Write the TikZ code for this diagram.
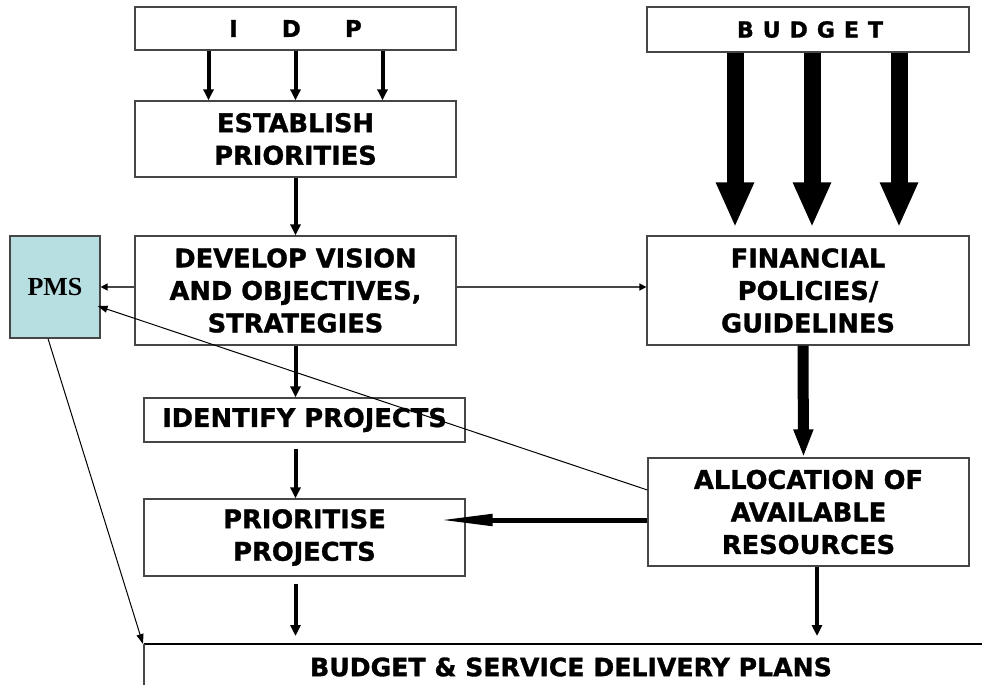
\documentclass[tikz,border=0pt]{standalone}
\usepackage{fontspec}
\newfontfamily\heavy{DejaVu Sans}[BoldFeatures={FakeBold=1.2}]
\newfontfamily\pmsfont{Liberation Serif}
\usetikzlibrary{arrows.meta}
\definecolor{pmsblue}{RGB}{183,222,225}
\definecolor{edge}{RGB}{70,70,70}

\begin{document}
\begin{tikzpicture}[x=1pt,y=-1pt,
  box/.style={draw=edge, line width=1.2pt, fill=white, inner sep=0pt,
    align=center, text=black,
    font=\heavy\bfseries\fontsize{25.7}{32.5}\selectfont},
  wide/.style={minimum width=321pt},
  idparr/.style={line width=4pt, -{Triangle[length=11pt,width=10pt]}},
  bigarr/.style={line width=17pt, -{Triangle[length=45pt,width=35pt]}},
  medarr/.style={line width=11pt, -{Triangle[length=28pt,width=18pt]}},
  longarr/.style={line width=5pt, -{Triangle[length=54pt,width=11pt]}},
  thinarr/.style={draw=edge, line width=1.5pt, -{Triangle[length=7pt,width=7pt,color=black]}},
  finearr/.style={draw=black, line width=1pt, -{Triangle[length=10pt,width=7pt]}}
]
\useasboundingbox (0,0) rectangle (982,685);

% top row
\node[box, wide, minimum height=43pt, font=\heavy\bfseries\fontsize{23}{28}\selectfont]
  (idp) at (295.5,28.5) {I\hspace{44pt}D\hspace{44pt}P};
\node[box, minimum width=322pt, minimum height=45pt, font=\heavy\bfseries\fontsize{22}{26}\selectfont]
  (budget) at (808,29.5) {\hspace{4pt}B\hspace{9pt}U\hspace{9pt}D\hspace{9pt}G\hspace{9pt}E\hspace{9pt}T};

% left column
\node[box, wide, minimum height=76pt] (est) at (295.5,139) {ESTABLISH\\PRIORITIES};
\node[box, wide, minimum height=109pt] (dev) at (295.5,290.5) {DEVELOP VISION\\AND OBJECTIVES,\\STRATEGIES};
\node[box, wide, minimum height=44pt] (ident) at (304.5,420) {IDENTIFY PROJECTS};
\node[box, wide, minimum height=77pt] (prio) at (304.5,537.5) {PRIORITISE\\PROJECTS};

% right column
\node[box, minimum width=322pt, minimum height=109pt] (fin) at (808,290.5) {FINANCIAL\\POLICIES/\\GUIDELINES};
\node[box, wide, minimum height=108pt] (alloc) at (808.5,512) {ALLOCATION OF\\AVAILABLE\\RESOURCES};

% performance management box
\node[box, fill=pmsblue, minimum width=90pt, minimum height=102pt,
  font=\pmsfont\bfseries\fontsize{26}{30}\selectfont] (pms) at (55,287) {PMS};

% open box for the delivery plans
\coordinate (plansTL) at (144,644);
\coordinate (plansTR) at (982,644);
\coordinate (plansBL) at (144,685);
\draw[line width=2pt] (plansTL) -- (plansTR);
\draw[edge, line width=1.5pt] (plansTL) -- (plansBL);
\node[font=\heavy\bfseries\fontsize{25.2}{30}\selectfont, inner sep=0pt]
  (plans) at (571,667) {BUDGET \& SERVICE DELIVERY PLANS};

% IDP feeds priorities
\foreach \dx in {-87,0,87}
  \draw[idparr] ([xshift=\dx pt]idp.south) -- ([xshift=\dx pt]est.north);
\draw[idparr] (est.south) -- (est.south |- dev.north);
\draw[idparr] (dev.south) -- (dev.south |- ident.north);
\draw[idparr, shorten <=6pt] (ident.south -| dev.south) -- (dev.south |- prio.north);
\draw[idparr, shorten <=7pt, shorten >=8pt] (prio.south -| dev.south) -- (dev.south |- plansTL);

% budget feeds financial policies
\foreach \dx in {-73,4,91}
  \draw[bigarr, shorten >=8pt] ([xshift=\dx pt]budget.south) -- ([xshift=\dx pt]fin.north);
\draw[medarr] ([xshift=-5pt]fin.south) -- ([xshift=-5pt]alloc.north);
\draw[idparr, shorten >=8pt] ([xshift=8.5pt]alloc.south) -- ([xshift=8.5pt]alloc.south |- plansTL);

% allocation back to prioritisation
\coordinate (prioTip) at ([xshift=-27pt,yshift=17.5pt]prio.east);
\draw[longarr] (alloc.west |- prioTip) -- (prioTip);

% links to and from PMS
\draw[thinarr] (dev.west |- pms.east) -- (pms.east);
\draw[thinarr] (dev.east |- pms.east) -- (fin.west |- pms.east);
\draw[finearr] ([yshift=22pt]alloc.west) -- ([xshift=-3pt,yshift=-19pt]pms.east);
\draw[finearr] ([xshift=-7pt]pms.south) -- ([xshift=-1pt]plansTL);
\end{tikzpicture}
\end{document}
